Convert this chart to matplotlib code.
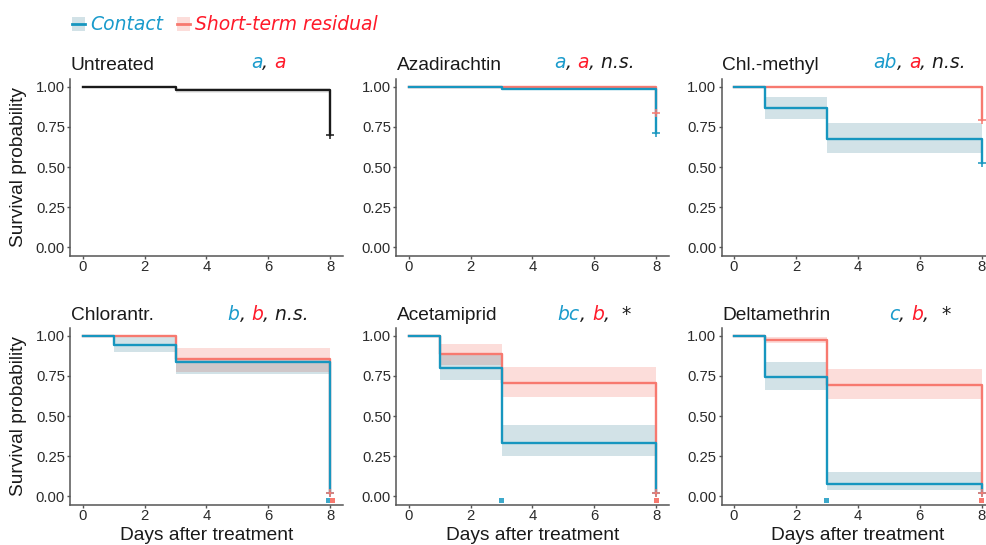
import matplotlib
matplotlib.use('Agg')
import matplotlib.pyplot as plt
from matplotlib.patches import Patch
from matplotlib.lines import Line2D
from matplotlib.legend_handler import HandlerTuple
from matplotlib.offsetbox import TextArea, HPacker, AnnotationBbox

# ---------------- data ----------------
times = [0, 1, 3, 8]
x_ticks = [0, 2, 4, 6, 8]
y_ticks = [0.0, 0.25, 0.50, 0.75, 1.00]
y_tick_labels = ["0.00", "0.25", "0.50", "0.75", "1.00"]

panel_titles = ["Untreated", "Azadirachtin", "Chl.-methyl",
                "Chlorantr.", "Acetamiprid", "Deltamethrin"]
contact_letters = ["a", "a", "ab", "b", "bc", "c"]
residual_letters = ["a", "a", "a", "b", "b", "b"]
signif_labels = ["", "n.s.", "n.s.", "n.s.", "*", "*"]

series_names = ["Contact", "Short-term residual"]

# Untreated control (both exposure types identical)
untreated_surv = [1.0, 1.0, 0.977, 0.70]
untreated_lo = [1.0, 1.0, 0.963, 0.963]
untreated_hi = [1.0, 1.0, 0.992, 0.992]

# Treated panels (Azadirachtin, Chl.-methyl, Chlorantr., Acetamiprid, Deltamethrin)
contact_surv = [[1.0, 1.0, 0.988, 0.71],
                [1.0, 0.865, 0.672, 0.527],
                [1.0, 0.942, 0.836, 0.02],
                [1.0, 0.799, 0.333, 0.021],
                [1.0, 0.745, 0.077, 0.021]]
contact_lo = [[1.0, 1.0, 0.978, 0.978],
              [1.0, 0.800, 0.587, 0.587],
              [1.0, 0.899, 0.762, 0.762],
              [1.0, 0.725, 0.253, 0.253],
              [1.0, 0.663, 0.041, 0.041]]
contact_hi = [[1.0, 1.0, 0.998, 0.998],
              [1.0, 0.936, 0.774, 0.774],
              [1.0, 1.0, 0.859, 0.859],
              [1.0, 0.880, 0.445, 0.445],
              [1.0, 0.838, 0.151, 0.151]]

residual_surv = [[1.0, 1.0, 1.0, 0.836],
                 [1.0, 1.0, 1.0, 0.79],
                 [1.0, 1.0, 0.853, 0.02],
                 [1.0, 0.884, 0.708, 0.021],
                 [1.0, 0.975, 0.694, 0.022]]
residual_lo = [[1.0, 1.0, 1.0, 1.0],
               [1.0, 1.0, 1.0, 1.0],
               [1.0, 1.0, 0.776, 0.776],
               [1.0, 0.818, 0.621, 0.621],
               [1.0, 0.952, 0.607, 0.607]]
residual_hi = [[1.0, 1.0, 1.0, 1.0],
               [1.0, 1.0, 1.0, 1.0],
               [1.0, 1.0, 0.921, 0.921],
               [1.0, 0.948, 0.803, 0.803],
               [1.0, 0.994, 0.791, 0.791]]

# small marks drawn just below zero (time of mark, or None)
contact_marks = [None, None, 8, 3, 3]
residual_marks = [None, None, 8, 8, 8]

# ---------------- style ----------------
BLUE = '#1796BF'
BLUE_TXT = '#1A9BCC'
BLUE_FILL = '#1F6F88'
SALMON = '#F7796F'
RED_TXT = '#FF1A2A'
DARK = '#1A1A1A'
AXIS_COL = '#555555'
TICK_TXT = '#2B2B2B'
SANS = 'Liberation Sans'
VERD = 'DejaVu Sans'

W, H = 987, 545
fig = plt.figure(figsize=(W / 100, H / 100), dpi=100)

col_left = [70.3, 396.3, 721.6]
col_width = 272.4
row_top = [78.7, 327.7]
row_height = 176.8
title_off = [6.0, 5.5]
annot_off = [4.8, 3.0]


def make_axes(r, c):
    left = col_left[c] / W
    bottom = 1 - (row_top[r] + row_height) / H
    ax = fig.add_axes([left, bottom, col_width / W, row_height / H])
    ax.set_xlim(-0.4, 8.4)
    ax.set_ylim(-0.05, 1.05)
    for s in ['top', 'right']:
        ax.spines[s].set_visible(False)
    for s in ['left', 'bottom']:
        ax.spines[s].set_color(AXIS_COL)
        ax.spines[s].set_linewidth(1.1)
    ax.set_xticks(x_ticks)
    ax.set_xticklabels([str(t) for t in x_ticks])
    ax.set_yticks(y_ticks)
    ax.set_yticklabels(y_tick_labels)
    ax.tick_params(axis='both', colors=AXIS_COL, length=2.4, width=1.0,
                   labelcolor=TICK_TXT, labelsize=10.7)
    ax.tick_params(axis='x', pad=0.6)
    ax.tick_params(axis='y', pad=1.4)
    for lab in ax.get_xticklabels() + ax.get_yticklabels():
        lab.set_family(SANS)
    ax.patch.set_alpha(0)
    return ax


def add_title(ax, r, title, pieces):
    ax.annotate(title, xy=(0, 1), xycoords='axes fraction',
                xytext=(0.5, title_off[r]), textcoords='offset points',
                ha='left', va='baseline', fontsize=13.8, family=SANS,
                color=DARK, annotation_clip=False)
    children = []
    for txt, col, style in pieces:
        children.append(TextArea(txt, textprops=dict(color=col, fontsize=13.5,
                                                     fontstyle=style, family=VERD)))
    pack = HPacker(children=children, align='baseline', pad=0, sep=0)
    ab = AnnotationBbox(pack, xy=(6, 1), xycoords=('data', 'axes fraction'),
                        xybox=(0, annot_off[r]), boxcoords='offset points',
                        box_alignment=(0.5, 0.0), frameon=False, pad=0,
                        annotation_clip=False)
    ax.add_artist(ab)


# Untreated panel
ax0 = make_axes(0, 0)
ax0.fill_between(times, untreated_lo, untreated_hi, step='post',
                 color='#BDBDBD', alpha=0.3, linewidth=0)
ax0.step(times, untreated_surv, where='post', color=DARK, lw=1.7)
ax0.plot([times[-1]], [untreated_surv[-1]], marker='+', color=DARK, ms=5.5,
         mew=1.1, linestyle='none')
add_title(ax0, 0, panel_titles[0],
          [(contact_letters[0], BLUE_TXT, 'italic'), (", ", DARK, 'italic'),
           (residual_letters[0], RED_TXT, 'italic')])

positions = [(0, 1), (0, 2), (1, 0), (1, 1), (1, 2)]
for i, (r, c) in enumerate(positions):
    ax = make_axes(r, c)
    # ribbons
    ax.fill_between(times, residual_lo[i], residual_hi[i], step='post',
                    color=SALMON, alpha=0.25, linewidth=0)
    ax.fill_between(times, contact_lo[i], contact_hi[i], step='post',
                    color=BLUE_FILL, alpha=0.2, linewidth=0)
    # lines
    ax.step(times, residual_surv[i], where='post', color=SALMON, lw=1.7)
    ax.step(times, contact_surv[i], where='post', color=BLUE, lw=1.7)
    ax.plot([times[-1]], [contact_surv[i][-1]], marker='+', color=BLUE,
            ms=5.5, mew=1.1, linestyle='none')
    ax.plot([times[-1]], [residual_surv[i][-1]], marker='+', color=SALMON,
            ms=5.5, mew=1.1, linestyle='none')
    # small marks under the zero line
    cm, rm = contact_marks[i], residual_marks[i]
    shift = 0.06 if (cm is not None and rm is not None and cm == rm) else 0.0
    if cm is not None:
        ax.bar([cm - shift], [0.032], bottom=-0.042, width=0.17,
               color='#3DA9CB', linewidth=0, zorder=1)
    if rm is not None:
        ax.bar([rm + shift], [0.032], bottom=-0.042, width=0.17,
               color=SALMON, linewidth=0, zorder=1)
    pieces = [(contact_letters[i + 1], BLUE_TXT, 'italic'), (", ", DARK, 'italic'),
              (residual_letters[i + 1], RED_TXT, 'italic')]
    sig = signif_labels[i + 1]
    if sig == "*":
        pieces += [(",  ", DARK, 'italic'), ("*", DARK, 'normal')]
    elif sig:
        pieces += [(", " + sig, DARK, 'italic')]
    add_title(ax, r, panel_titles[i + 1], pieces)

# y labels
for r in range(2):
    yc = 1 - (row_top[r] + row_height / 2) / H
    fig.text(19 / W, yc, "Survival probability", rotation=90, ha='center',
             va='center', fontsize=13.8, family=SANS, color=DARK)

# x labels (bottom row)
for c in range(3):
    xc = (col_left[c] + col_width / 2) / W
    fig.text(xc, 1 - 539.5 / H, "Days after treatment", ha='center',
             va='baseline', fontsize=13.8, family=SANS, color=DARK)

# legend
handles = [(Patch(facecolor=BLUE_FILL, alpha=0.2, edgecolor='none'),
            Line2D([], [], color=BLUE, lw=2)),
           (Patch(facecolor=SALMON, alpha=0.25, edgecolor='none'),
            Line2D([], [], color=SALMON, lw=2))]
leg = fig.legend(handles, series_names, loc='center left',
                 bbox_to_anchor=(72 / W, 1 - 25 / H), ncol=2, frameon=False,
                 prop=dict(family=VERD, style='italic', size=13.5),
                 handlelength=0.7, handleheight=0.7, handletextpad=0.27,
                 columnspacing=0.75, borderpad=0, borderaxespad=0,
                 handler_map={tuple: HandlerTuple(ndivide=1)})
leg.get_texts()[0].set_color(BLUE_TXT)
leg.get_texts()[1].set_color(RED_TXT)

fig.savefig('out.png', dpi=100)
